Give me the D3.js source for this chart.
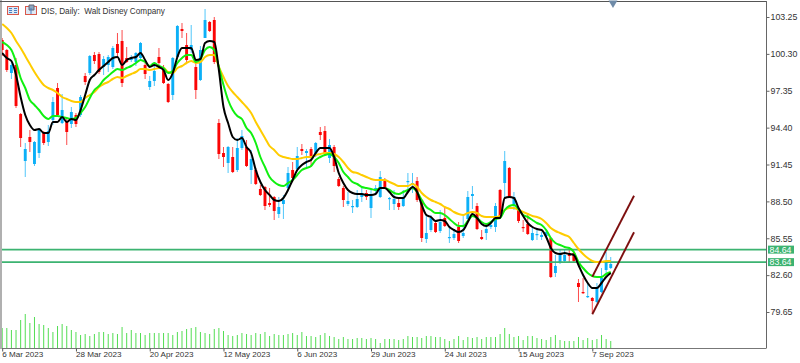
<!DOCTYPE html>
<html>
<head>
<meta charset="utf-8">
<script src="https://cdn.jsdelivr.net/npm/d3@7"></script>
<style>
  html, body { margin: 0; padding: 0; background: #fff; }
  svg { display: block; }
  text { font-family: "Liberation Sans", sans-serif; }
</style>
</head>
<body>
<script>
// DIS daily
const open = [101.41,100.61,98.77,99.41,95.49,91.73,93.65,91.49,92.37,93.97,93.25,95.01,97.57,94.77,94.85,94.69,95.41,95.41,98.53,98.77,100.21,100.29,99.25,99.41,99.25,101.09,101.33,99.97,99.81,99.65,99.97,99.41,97.65,98.13,100.05,99.01,97.89,97.01,100.05,102.29,101.01,100.61,99.25,98.21,
  101.57,102.85,103.01,94.77,92.37,91.57,92.05,91.01,92.77,92.85,91.01,91.01,89.49,89.65,88.37,88.85,87.49,88.29,89.57,91.01,91.09,92.69,92.37,92.69,92.21,94.05,94.13,91.97,92.85,90.29,89.57,88.29,88.05,88.05,88.85,89.17,87.97,89.33,88.85,90.21,88.69,88.29,88.37,
  88.13,90.05,89.81,90.13,88.61,85.49,86.21,86.77,86.13,87.17,85.57,85.57,86.45,85.73,87.09,88.93,88.13,85.65,85.97,86.45,86.45,89.41,89.97,91.17,88.21,87.81,86.45,86.69,85.41,85.81,85.65,85.73,85.57,82.77,83.65,83.73,84.37,
  84.37,81.97,81.25,80.85,80.77,80.45,81.25,83.01,83.17];
const high = [101.57,100.69,99.81,99.97,95.57,93.17,94.21,93.33,94.37,94.13,94.61,96.85,97.97,97.09,95.25,96.05,95.57,97.01,98.77,100.21,100.45,100.45,100.13,100.21,100.93,101.97,102.21,100.85,100.21,100.45,101.25,99.57,98.53,99.65,100.77,99.41,97.97,100.05,102.61,102.77,101.97,102.61,99.81,100.93,
  103.89,102.93,103.25,95.09,92.85,92.93,92.85,93.57,94.21,93.41,92.61,91.17,89.81,89.73,89.57,88.93,88.85,89.01,91.25,91.65,92.85,93.09,92.69,92.85,93.25,94.45,94.53,93.49,93.01,90.45,89.73,89.25,88.61,89.41,89.57,89.41,89.41,89.81,90.93,90.37,88.85,89.41,88.85,
  89.41,90.77,90.77,90.45,88.69,87.41,87.41,87.01,87.81,87.97,86.37,86.21,86.85,87.41,89.33,89.73,88.37,86.21,86.61,86.85,88.37,89.49,92.53,91.25,89.25,87.89,87.01,87.57,86.37,86.37,86.05,86.21,85.65,84.21,84.61,84.69,84.61,
  84.45,82.29,82.37,81.97,80.85,81.97,83.17,84.45,84.05];
const low = [100.13,98.85,98.29,95.97,92.85,90.45,92.45,91.33,91.97,93.01,92.93,94.61,95.25,94.69,93.01,94.37,94.45,95.25,97.81,98.61,99.49,98.69,98.61,98.85,99.09,99.97,97.65,99.57,99.65,99.33,99.81,98.29,97.41,97.73,99.25,97.89,96.37,96.61,99.97,101.57,99.57,100.37,96.69,98.13,
  101.57,102.05,99.49,91.89,91.25,90.77,90.77,90.85,92.61,91.25,89.89,89.81,88.93,87.81,88.05,87.01,87.17,87.09,89.41,90.05,91.01,92.21,91.25,91.25,92.05,93.41,92.21,91.57,90.85,89.65,88.05,88.13,87.57,87.97,88.45,88.61,87.17,89.17,88.77,89.57,87.81,87.81,87.81,
  88.05,89.17,89.17,88.45,85.25,85.17,86.05,85.97,85.97,86.45,85.17,85.41,85.17,85.57,87.01,87.89,86.21,85.41,85.41,86.29,86.05,87.17,88.85,88.77,87.81,86.77,86.05,85.81,85.33,85.41,85.41,85.57,82.37,82.45,83.49,83.65,83.65,
  83.65,80.45,81.09,80.77,79.57,80.37,81.17,82.61,83.09];
const close = [100.61,99.01,99.41,96.13,93.57,92.69,93.25,93.25,94.21,93.17,94.13,96.45,95.41,95.81,94.05,95.65,94.69,96.85,98.05,100.13,99.73,98.85,99.89,100.05,100.77,100.37,97.97,99.65,100.05,100.37,101.17,98.69,98.13,98.93,99.57,97.97,96.45,99.97,102.53,102.13,99.81,101.01,97.41,100.61,
  103.01,102.13,99.65,92.29,92.05,92.85,90.85,92.77,93.73,91.33,91.89,89.89,89.01,88.13,88.21,87.73,88.05,88.61,90.77,90.37,92.13,92.53,92.53,91.97,93.17,93.81,92.37,93.01,91.33,89.73,88.61,88.53,88.13,88.69,89.17,88.85,89.01,89.57,90.45,89.65,88.77,88.69,88.05,
  88.85,90.13,89.97,88.61,85.57,85.97,87.17,86.05,86.85,86.53,85.65,85.89,85.33,85.97,88.85,89.09,86.29,85.49,86.29,86.61,88.13,87.25,91.73,88.85,88.85,86.93,86.37,85.89,85.97,85.89,85.81,86.05,82.45,83.33,84.21,84.21,84.13,
  83.73,81.65,81.17,80.93,80.53,81.57,82.37,83.57,83.49];

// moving averages
const maBlack = [100.37,99.97,99.73,98.61,96.85,95.41,94.61,94.21,94.29,93.97,93.97,94.85,94.85,95.25,94.85,95.09,95.01,95.81,97.01,98.21,98.61,99.01,99.33,99.65,99.97,100.05,99.41,99.81,99.97,100.05,100.37,99.81,99.25,99.41,99.25,99.01,98.21,98.77,100.05,100.77,100.77,100.77,99.81,99.89,
  101.17,101.33,101.25,99.01,96.05,94.77,93.65,93.41,93.57,92.85,92.37,91.01,90.05,89.41,89.01,88.61,88.53,88.77,89.41,90.21,91.01,91.41,91.65,91.81,92.37,92.77,92.77,92.77,92.05,90.77,89.97,89.41,89.17,89.09,89.09,89.01,89.01,89.09,89.57,89.57,89.25,88.85,88.77,
  88.77,89.25,89.65,89.25,88.21,87.41,87.25,86.93,87.01,86.93,86.45,86.21,86.05,86.21,86.85,87.49,87.17,86.69,86.53,86.77,87.17,87.17,88.77,88.85,88.77,87.97,87.33,86.77,86.45,86.29,86.21,85.65,84.77,84.37,84.29,84.37,84.29,
  84.21,83.41,82.61,81.97,81.57,81.57,81.97,82.45,82.77];
const maGreen = [101.25,101.01,100.61,99.65,98.37,97.57,96.61,96.21,95.81,95.33,95.09,95.33,95.33,95.25,95.17,95.09,95.17,95.57,96.05,96.77,97.41,97.73,98.21,98.53,98.85,99.09,99.01,99.17,99.33,99.57,99.81,99.65,99.33,99.57,99.33,99.17,98.77,98.93,99.57,99.97,100.21,100.21,99.65,99.89,
  100.61,100.85,100.61,99.25,97.81,96.61,95.81,95.33,95.09,94.37,93.97,93.17,92.05,91.25,90.45,90.05,89.81,89.73,89.97,90.21,90.61,91.01,91.17,91.33,91.81,92.05,92.21,92.29,92.05,91.57,90.85,90.45,90.05,89.89,89.65,89.57,89.49,89.41,89.57,89.57,89.41,89.17,89.09,
  89.25,89.41,89.57,89.25,88.61,88.05,87.81,87.57,87.57,87.41,87.09,86.77,86.53,86.53,86.93,87.33,87.17,86.85,86.69,86.85,87.09,87.17,87.81,88.13,88.21,87.89,87.41,87.25,87.01,86.77,86.61,86.21,85.57,85.17,85.01,84.85,84.77,
  84.45,83.65,83.17,82.77,82.53,82.45,82.45,82.69,82.85];
const maGold = [102.69,102.37,101.97,101.33,100.77,100.13,99.49,98.85,98.29,97.81,97.57,97.41,97.17,96.85,96.69,96.53,96.45,96.45,96.77,97.01,97.25,97.65,97.89,98.05,98.29,98.45,98.37,98.53,98.69,98.85,99.09,99.09,99.01,99.09,99.17,99.17,98.85,98.77,99.17,99.33,99.57,99.73,99.57,99.65,
  100.05,100.21,100.21,99.25,98.45,97.73,97.25,96.85,96.45,96.05,95.57,94.85,94.21,93.57,92.93,92.61,92.21,92.05,91.97,91.89,91.89,91.97,92.05,92.05,92.21,92.29,92.37,92.37,92.29,92.05,91.65,91.17,90.85,90.77,90.61,90.45,90.29,90.21,90.21,90.21,90.05,89.89,89.73,
  89.73,89.73,89.89,89.65,89.17,88.85,88.61,88.45,88.29,88.05,87.89,87.65,87.49,87.41,87.57,87.65,87.57,87.33,87.25,87.25,87.25,87.33,87.81,87.97,87.97,87.81,87.65,87.49,87.33,87.25,87.09,86.77,86.37,86.13,85.97,85.81,85.65,
  85.17,84.69,84.29,83.97,83.73,83.65,83.65,83.73,83.73];

// volume in millions, roughly
const volume = [20,20,18,18,28,34,25,31,24,23,20,16,22,24,22,18,16,13,14,12,14,16,16,14,15,14,21,15,18,15,15,13,15,15,15,15,15,13,16,17,19,20,21,16,15,14,19,20,17,13,12,13,15,14,13,15,14,16,12,14,13,13,14,15,13,
  16,12,12,11,13,15,12,11,9,11,9,9,10,10,9,10,9,5,9,9,9,8,9,12,11,11,10,12,12,11,11,9,7,9,12,8,11,10,11,9,11,11,11,14,20,14,11,12,8,12,12,10,9,8,11,13,8,7,7,7,11,8,10,8,9,13,9,7];

const priceTicks = [103.25,100.30,97.35,94.40,91.45,88.50,85.55,82.60,79.65];
const dateIndex = [0,16,32,48,64,80,96,112,128];
const dateLabels = ["6 Mar 2023","28 Mar 2023","20 Apr 2023","12 May 2023","6 Jun 2023","29 Jun 2023","24 Jul 2023","15 Aug 2023","7 Sep 2023"];

const levels = [84.64, 83.64];
// channel: [bar, price] ends
const channelUpper = [[128, 82.47], [137.05, 88.95]];
const channelLower = [[128, 79.47], [137.05, 86.03]];

const width = 800;
const height = 363;
const plotRight = 766;
const plotTop = 1;
const plotBottom = 348;

const x = d3.scaleLinear().domain([0, 128]).range([2.2, 592.3]);
const y = d3.scaleLinear().domain([103.25, 79.65]).range([17, 312]);
const volY = d3.scaleLinear().domain([0, 34]).range([plotBottom, plotBottom - 34]);

const blue = "#0cb0f7";
const red = "#fb0505";

const svg = d3.select("body")
  .append("svg")
  .attr("width", width)
  .attr("height", height);

svg.append("rect").attr("width", width).attr("height", height).attr("fill", "#fff");

const bars = d3.range(open.length);

// volume
svg.append("g").selectAll("line")
  .data(bars)
  .enter().append("line")
  .attr("x1", i => x(i)).attr("x2", i => x(i))
  .attr("y1", plotBottom)
  .attr("y2", i => volY(volume[i]))
  .attr("stroke", "#0fd00f")
  .attr("stroke-width", 0.72);

// candles
const candles = svg.append("g");
candles.selectAll("line")
  .data(bars)
  .enter().append("line")
  .attr("x1", i => x(i)).attr("x2", i => x(i))
  .attr("y1", i => y(high[i]))
  .attr("y2", i => y(low[i]))
  .attr("stroke", i => close[i] >= open[i] ? blue : red)
  .attr("stroke-width", 0.72);

candles.selectAll("rect")
  .data(bars)
  .enter().append("rect")
  .attr("x", i => x(i) - 1.45)
  .attr("width", 2.9)
  .attr("y", i => y(Math.max(open[i], close[i])))
  .attr("height", i => Math.max(1.2, Math.abs(y(open[i]) - y(close[i]))))
  .attr("fill", i => close[i] >= open[i] ? blue : red);

// horizontal levels
svg.append("g").selectAll("line")
  .data(levels)
  .enter().append("line")
  .attr("x1", 2).attr("x2", plotRight)
  .attr("y1", d => y(d)).attr("y2", d => y(d))
  .attr("stroke", "#3cb371")
  .attr("stroke-width", 1.8);

// moving averages
const maLine = d3.line().x((d, i) => x(i)).y(d => y(d)).curve(d3.curveMonotoneX);
[[maGold, "#ffcc00"], [maGreen, "#10f010"], [maBlack, "#000"]].forEach(function(s) {
  svg.append("path")
    .attr("d", maLine(s[0]))
    .attr("fill", "none")
    .attr("stroke", s[1])
    .attr("stroke-width", 2)
    .attr("stroke-linejoin", "round");
});

// channel
const chLine = d3.line().x(d => x(d[0])).y(d => y(d[1]));
[channelUpper, channelLower].forEach(function(c) {
  svg.append("path")
    .attr("d", chLine(c))
    .attr("stroke", "#7d0f0f")
    .attr("stroke-width", 1.9)
    .attr("fill", "none");
});

// frame
svg.append("rect").attr("x", 0).attr("y", 0).attr("width", 2).attr("height", 349).attr("fill", "#b0b0b0");
svg.append("line").attr("x1", 0).attr("x2", plotRight).attr("y1", plotTop + 0.5).attr("y2", plotTop + 0.5).attr("stroke", "#555");
svg.append("line").attr("x1", 2).attr("x2", plotRight).attr("y1", plotBottom + 0.5).attr("y2", plotBottom + 0.5).attr("stroke", "#777");

// price axis
const yAxis = d3.axisRight(y).tickValues(priceTicks).tickFormat(d3.format(".2f")).tickSize(3).tickPadding(1);
const yg = svg.append("g").attr("transform", `translate(${plotRight + 0.5},0)`).call(yAxis);
yg.select(".domain").attr("d", `M0,${plotTop}V${plotBottom + 0.5}`).attr("stroke", "#666");
yg.selectAll("line").attr("stroke", "#666");
yg.selectAll("text").attr("font-size", 8.8).attr("font-family", '"Liberation Sans", sans-serif').attr("fill", "#333");

// date axis, labels hang right of the tick
const xAxis = d3.axisBottom(x).tickValues(dateIndex).tickFormat((d, i) => dateLabels[i]).tickSize(3).tickPadding(0);
const xg = svg.append("g").attr("transform", `translate(0,${plotBottom + 0.5})`).call(xAxis);
xg.select(".domain").remove();
xg.selectAll("line").attr("stroke", "#555");
xg.selectAll("text")
  .attr("text-anchor", "start")
  .attr("x", -0.5)
  .attr("font-size", 8.1)
  .attr("font-family", '"Liberation Sans", sans-serif')
  .attr("fill", "#333");

// level price boxes
const tags = svg.append("g").selectAll("g")
  .data(levels)
  .enter().append("g")
  .attr("transform", d => `translate(768,${y(d)})`);
tags.append("rect")
  .attr("y", -4).attr("width", 26).attr("height", 8)
  .attr("fill", "#3cb371");
tags.append("text")
  .attr("x", 1.5).attr("y", 3.2)
  .attr("font-size", 8.8)
  .attr("fill", "#fff")
  .text(d => d3.format(".2f")(d));

// marker at top edge
svg.append("path")
  .attr("d", d3.symbol(d3.symbolTriangle, 34)())
  .attr("transform", "translate(613,3) rotate(180)")
  .attr("fill", "#6f8ba8");

// title bar
const icons = svg.append("g");
icons.append("rect").attr("x", 7.5).attr("y", 6.5).attr("width", 11).attr("height", 8).attr("fill", "#dce8f5").attr("stroke", "#d9584a");
icons.append("path").attr("d", "M9,8.5h3M14,8.5h3M9,10.5h3M14,10.5h3M9,12.5h3M14,12.5h3").attr("stroke", "#4a7fc0");
icons.append("rect").attr("x", 25.5).attr("y", 6.5).attr("width", 11).attr("height", 8).attr("fill", "#dce8f5").attr("stroke", "#d9584a");
icons.append("path").attr("d", "M29,5h5v5h-5z").attr("fill", "#8aa6c0").attr("stroke", "#667");
icons.append("path").attr("d", "M31,8v6").attr("stroke", "#4a7fc0");

svg.append("text")
  .attr("x", 41).attr("y", 14)
  .attr("font-size", 8.2)
  .attr("fill", "#333")
  .style("white-space", "pre")
  .text("DIS, Daily:  Walt Disney Company");
</script>
</body>
</html>
